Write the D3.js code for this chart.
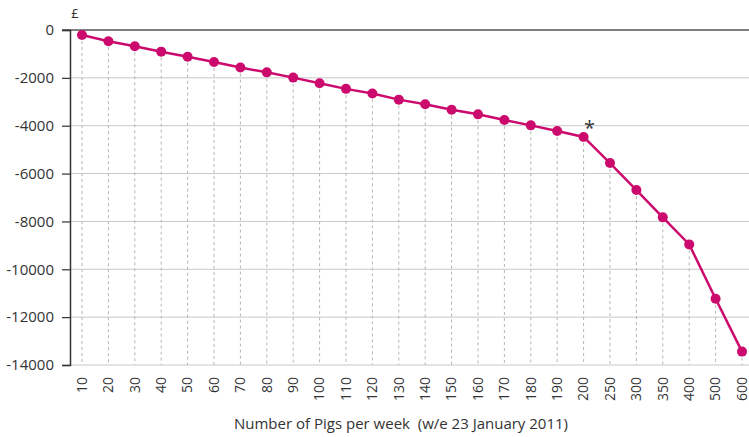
<!DOCTYPE html>
<html>
<head>
<meta charset="utf-8">
<script src="https://cdn.jsdelivr.net/npm/d3@7"></script>
<style>
  body { margin: 0; background: #fff; }
  text { font-family: "Open Sans", "Noto Sans", sans-serif; fill: #333; }
</style>
</head>
<body>
<div id="chart"></div>
<script>
const width = 749;
const height = 437;

// pigs per week (categories) and the £ value
const pigs = [10, 20, 30, 40, 50, 60, 70, 80, 90, 100, 110, 120, 130, 140, 150,
  160, 170, 180, 190, 200, 250, 300, 350, 400, 500, 600];
const pounds = [-210, -470, -680, -905, -1115, -1335, -1570, -1770, -1990, -2225,
  -2460, -2650, -2910, -3105, -3330, -3525, -3760, -3985, -4220, -4470,
  -5560, -6690, -7830, -8960, -11230, -13440];
const yTicks = [0, -2000, -4000, -6000, -8000, -10000, -12000, -14000];
const markedPigs = 200; // the point carrying the asterisk

const data = pigs.map((p, i) => ({ pigs: p, value: pounds[i] }));

const margin = { top: 30, right: 0, bottom: 72, left: 70 };
const usable = {
  left: margin.left,
  right: width - margin.right,
  top: margin.top,
  bottom: height - margin.bottom
};

const svg = d3.select('#chart')
  .append('svg')
  .attr('width', width)
  .attr('height', height);

const xScale = d3.scalePoint()
  .domain(pigs)
  .range([82, 742]);

const yScale = d3.scaleLinear()
  .domain([0, -14000])
  .range([30, 365]);

// horizontal gridlines
svg.append('g')
  .selectAll('line')
  .data(yTicks.slice(1))
  .join('line')
  .attr('x1', usable.left)
  .attr('x2', usable.right)
  .attr('y1', d => yScale(d))
  .attr('y2', d => yScale(d))
  .attr('stroke', '#c8c8c8')
  .attr('stroke-width', 1);

// dashed drop lines from each point to the bottom
svg.append('g')
  .selectAll('line')
  .data(data)
  .join('line')
  .attr('x1', d => xScale(d.pigs))
  .attr('x2', d => xScale(d.pigs))
  .attr('y1', d => yScale(d.value))
  .attr('y2', yScale(-14000))
  .attr('stroke', '#b4b4b4')
  .attr('stroke-width', 1)
  .attr('stroke-dasharray', '3,3');

// zero line across the top
svg.append('line')
  .attr('x1', usable.left - 8)
  .attr('x2', usable.right)
  .attr('y1', yScale(0))
  .attr('y2', yScale(0))
  .attr('stroke', '#555')
  .attr('stroke-width', 1.5);

// y axis
const yAxis = d3.axisLeft(yScale)
  .tickValues(yTicks)
  .tickSize(8)
  .tickPadding(8)
  .tickFormat(d => String(d));

const yG = svg.append('g')
  .attr('transform', `translate(${usable.left}, 0)`)
  .call(yAxis);
yG.select('.domain').attr('stroke', '#333').attr('stroke-width', 1.5);
yG.selectAll('.tick line').attr('stroke', '#333').attr('stroke-width', 1.2);
yG.selectAll('.tick text')
  .attr('fill', '#333')
  .style('font-size', '15px')
  .style('font-family', '"Open Sans", "Noto Sans", sans-serif');

// x axis labels (rotated)
const xAxis = d3.axisBottom(xScale).tickSize(0).tickPadding(0);
const xG = svg.append('g')
  .attr('transform', `translate(0, ${yScale(-14000)})`)
  .call(xAxis);
xG.select('.domain').remove();
xG.selectAll('.tick text')
  .attr('transform', 'rotate(-90)')
  .attr('x', -12)
  .attr('y', 0)
  .attr('dy', '0.3em')
  .attr('text-anchor', 'end')
  .attr('fill', '#333')
  .style('font-size', '14px')
  .style('font-family', '"Open Sans", "Noto Sans", sans-serif');

// the line
const line = d3.line()
  .x(d => xScale(d.pigs))
  .y(d => yScale(d.value));

svg.append('path')
  .datum(data)
  .attr('fill', 'none')
  .attr('stroke', '#cc0a6e')
  .attr('stroke-width', 2.5)
  .attr('d', line);

svg.append('g')
  .selectAll('circle')
  .data(data)
  .join('circle')
  .attr('cx', d => xScale(d.pigs))
  .attr('cy', d => yScale(d.value))
  .attr('r', 5)
  .attr('fill', '#cc0a6e');

// asterisk annotation
const marked = data.find(d => d.pigs === markedPigs);
svg.append('text')
  .attr('x', xScale(marked.pigs) + 6)
  .attr('y', yScale(marked.value) - 2)
  .attr('text-anchor', 'middle')
  .style('font-size', '20px')
  .text('*');

// currency unit
svg.append('text')
  .attr('x', 75)
  .attr('y', 18)
  .attr('text-anchor', 'middle')
  .style('font-size', '13px')
  .text('£');

// x axis title
svg.append('text')
  .attr('x', 401)
  .attr('y', 429)
  .attr('text-anchor', 'middle')
  .style('font-size', '15px')
  .style('white-space', 'pre')
  .text('Number of Pigs per week  (w/e 23 January 2011)');
</script>
</body>
</html>
